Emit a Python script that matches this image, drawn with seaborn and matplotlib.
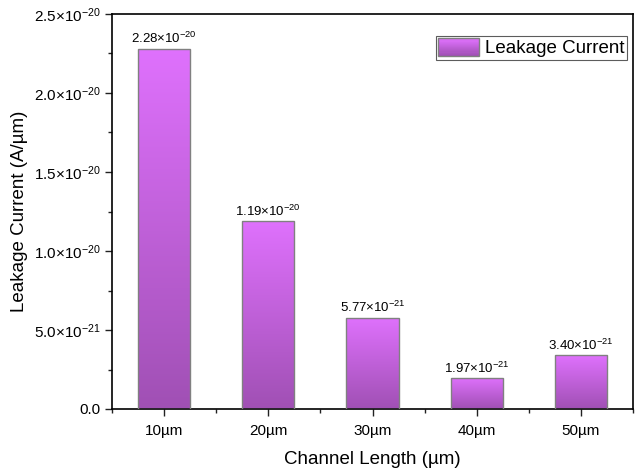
import numpy as np
import pandas as pd
import matplotlib
matplotlib.use("Agg")
import matplotlib.pyplot as plt
import seaborn as sns
from matplotlib.ticker import MultipleLocator, FixedLocator
from matplotlib.legend_handler import HandlerPatch
import matplotlib.patches as mpatches

categories = ["10µm", "20µm", "30µm", "40µm", "50µm"]
leakage = [2.28e-20, 1.19e-20, 5.77e-21, 1.97e-21, 3.40e-21]
ytick_values = [0.0, 5.0e-21, 1.0e-20, 1.5e-20, 2.0e-20, 2.5e-20]
ytick_labels = ["0.0", r"5.0$\times$10$^{-21}$", r"1.0$\times$10$^{-20}$",
                r"1.5$\times$10$^{-20}$", r"2.0$\times$10$^{-20}$", r"2.5$\times$10$^{-20}$"]

sns.set_style("ticks")
plt.rcParams["font.family"] = ["Liberation Sans", "DejaVu Sans"]
plt.rcParams["mathtext.fontset"] = "custom"
plt.rcParams["mathtext.rm"] = "Liberation Sans"
plt.rcParams["mathtext.it"] = "Liberation Sans:italic"
plt.rcParams["mathtext.bf"] = "Liberation Sans:bold"
for k in ["text.color", "axes.labelcolor", "xtick.color", "ytick.color"]:
    plt.rcParams[k] = "black"

top_col = np.array([0xDF, 0x71, 0xFD]) / 255
bot_col = np.array([0xA0, 0x50, 0xB4]) / 255

df = pd.DataFrame({"Channel": categories, "Leakage": leakage})

fig = plt.figure(figsize=(6.41, 4.70), dpi=100)
L, R, T, B = 112, 633, 14, 409
ax = fig.add_axes([L / 641, 1 - B / 470, (R - L) / 641, (B - T) / 470])

sns.barplot(data=df, x="Channel", y="Leakage", ax=ax, width=0.5,
            color="#C060D8", edgecolor="#808080", linewidth=1.0, zorder=2)

grad = np.linspace(1, 0, 256)[:, None, None]
img = bot_col[None, None, :] * (1 - grad) + top_col[None, None, :] * grad
for p in ax.patches:
    x0, y0 = p.get_x(), p.get_y()
    w, h = p.get_width(), p.get_height()
    im = ax.imshow(img, extent=[x0, x0 + w, y0, y0 + h], aspect="auto",
                   zorder=2.5, interpolation="bilinear")
    im.set_clip_path(p)
    p.set_facecolor("none")
    p.set_zorder(3)

def fmt(v):
    e = int(np.floor(np.log10(v)))
    m = v / 10 ** e
    return r"%.2f$\times$10$^{%d}$" % (m, e)

for i, v in enumerate(leakage):
    ax.text(i, v + 0.015e-20, fmt(v), ha="center", va="bottom", fontsize=9.5,
            color="black")

ax.set_xlim(-0.5, 4.5)
ax.set_ylim(0, 2.5e-20)
ax.yaxis.set_major_locator(FixedLocator(ytick_values))
ax.set_yticklabels(ytick_labels)
ax.yaxis.set_minor_locator(MultipleLocator(2.5e-21))
ax.xaxis.set_minor_locator(FixedLocator([-0.5, 0.5, 1.5, 2.5, 3.5, 4.5]))
ax.tick_params(axis="both", which="major", direction="out", length=5, width=1,
               labelsize=11, color="#222222", labelcolor="black")
ax.tick_params(axis="both", which="minor", direction="out", length=3, width=1,
               color="#222222")
ax.tick_params(axis="x", which="major", pad=6)
ax.tick_params(axis="y", which="major", pad=3)
for s in ax.spines.values():
    s.set_visible(True)
    s.set_linewidth(1.2)
    s.set_color("black")

ax.set_xlabel("Channel Length (µm)", fontsize=13.5, labelpad=9, color="black")
ax.set_ylabel("Leakage Current (A/µm)", fontsize=13.5, labelpad=4, color="black")


class GradHandler(HandlerPatch):
    def create_artists(self, legend, orig_handle, xdescent, ydescent, width, height, fontsize, trans):
        n = 16
        arts = []
        for k in range(n):
            t = k / (n - 1)
            c = bot_col * t + top_col * (1 - t)
            arts.append(mpatches.Rectangle((-xdescent, -ydescent + height * (1 - (k + 1) / n)),
                                           width, height / n, facecolor=c, edgecolor="none",
                                           transform=trans))
        arts.append(mpatches.Rectangle((-xdescent, -ydescent), width, height,
                                       facecolor="none", edgecolor="#808080", lw=1.0,
                                       transform=trans))
        return arts


handle = mpatches.Patch(facecolor="#C060D8", edgecolor="#808080", label="Leakage Current")
leg = ax.legend(handles=[handle], loc="upper right",
                bbox_to_anchor=((627 - L) / (R - L), 1 - (36 - T) / (B - T)),
                fontsize=13.5, frameon=True, fancybox=False, edgecolor="#333333",
                handlelength=2.2, handleheight=1.07, borderpad=0.12, handletextpad=0.32,
                borderaxespad=0.0, labelcolor="black",
                handler_map={mpatches.Patch: GradHandler()})
leg.get_frame().set_linewidth(0.8)

fig.savefig("out.png", dpi=100)
